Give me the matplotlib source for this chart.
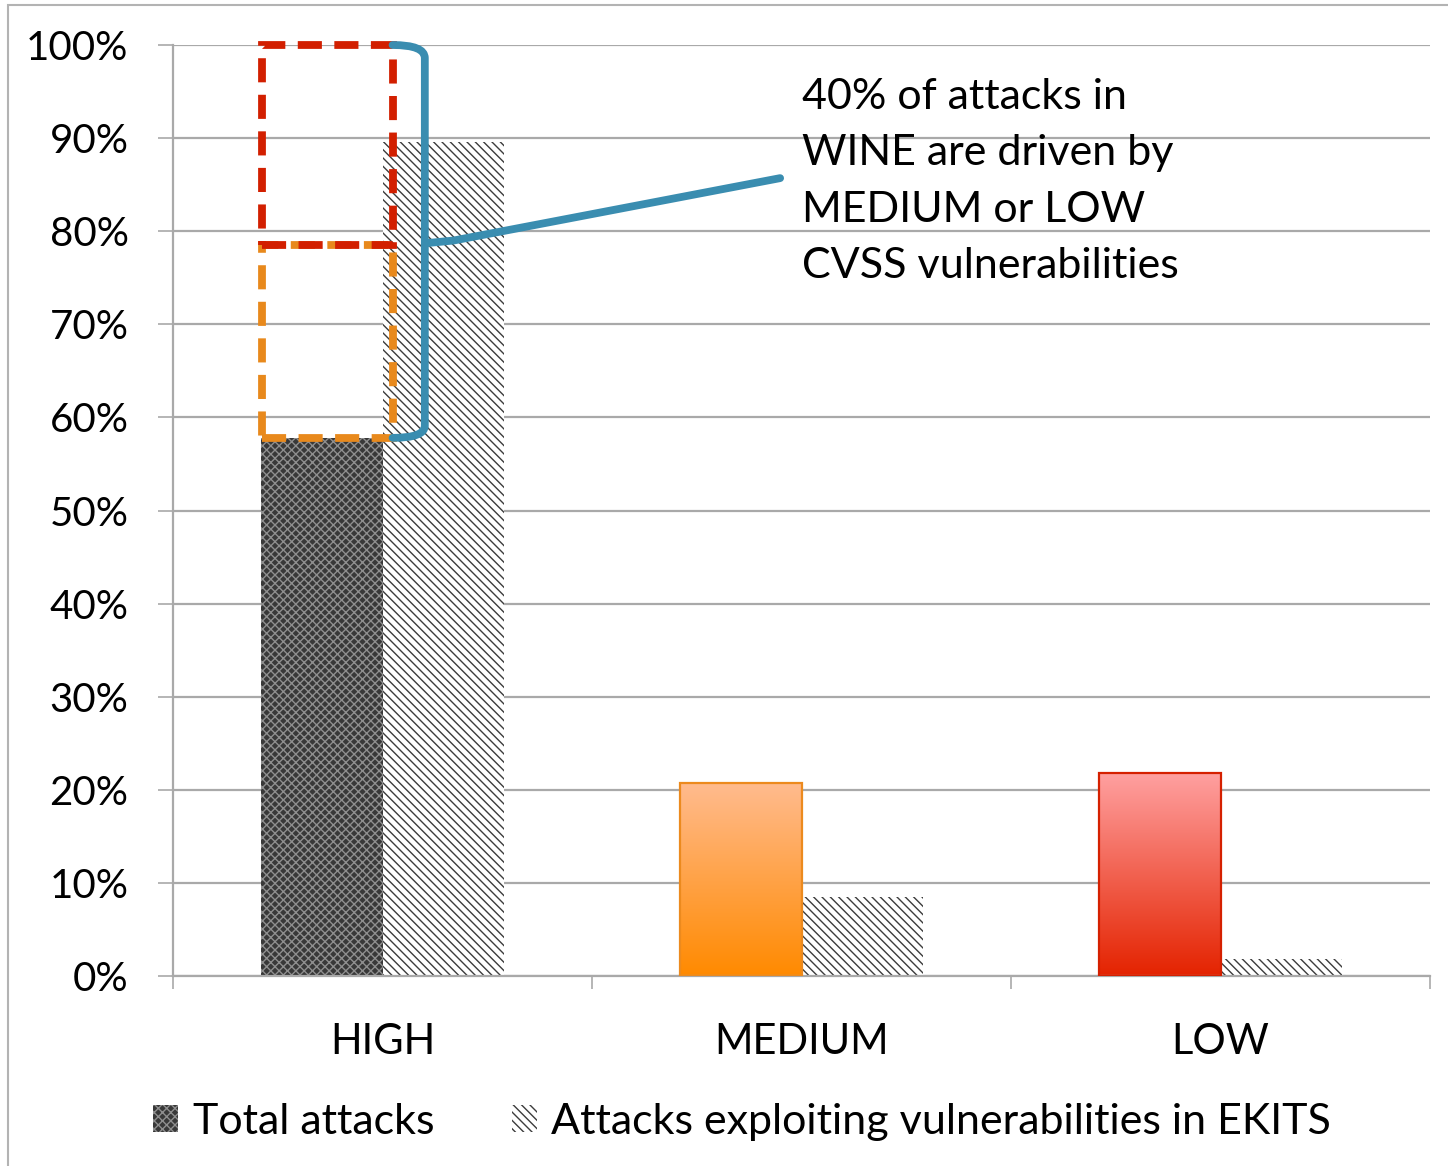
import numpy as np
import matplotlib
matplotlib.use("Agg")
import matplotlib.pyplot as plt
from matplotlib.patches import Rectangle, Patch, PathPatch
from matplotlib.path import Path
from matplotlib.colors import LinearSegmentedColormap

# ---- data -------------------------------------------------------------
categories = ["HIGH", "MEDIUM", "LOW"]
total_attacks = [57.8, 20.7, 21.8]          # % of attacks in WINE
ekits_attacks = [89.6, 8.5, 1.8]            # % of attacks exploiting EKIT vulns
ytick_values = [0, 10, 20, 30, 40, 50, 60, 70, 80, 90, 100]
ytick_labels = [f"{v}%" for v in ytick_values]
series_labels = ["Total attacks", "Attacks exploiting vulnerabilities in EKITS"]
note_lines = ["40% of attacks in", "WINE are driven by", "MEDIUM or LOW",
              "CVSS vulnerabilities"]

# ---- style ------------------------------------------------------------
plt.rcParams["font.family"] = ["Lato", "DejaVu Sans"]
plt.rcParams["hatch.linewidth"] = 1.0
GRID = "#a9a9a9"
FS = 29

W, H = 1448, 1166
fig = plt.figure(figsize=(W / 100, H / 100), dpi=100)
ax = fig.add_axes([173 / W, (H - 976) / H, (1430 - 173) / W, (976 - 45) / H])
ax.set_xlim(-0.5, 2.5)
ax.set_ylim(0, 100)

x = np.arange(len(categories))
bw = 0.29

# gridlines / axes
ax.set_yticks(ytick_values)
ax.set_yticklabels(ytick_labels, fontsize=FS, va="center_baseline")
ax.yaxis.grid(True, color=GRID, lw=1.6, zorder=0)
ax.set_axisbelow(True)
ax.tick_params(axis="y", direction="out", length=11, width=1.2, color=GRID, pad=21)
ax.set_xticks(x)
ax.set_xticklabels(categories, fontsize=30)
ax.tick_params(axis="x", which="major", length=0, pad=34)
ax.set_xticks([-0.5, 0.5, 1.5, 2.5], minor=True)
ax.tick_params(axis="x", which="minor", direction="out", length=9, width=1.2, color=GRID)
for s in ("top", "right"):
    ax.spines[s].set_visible(False)
for s in ("left", "bottom"):
    ax.spines[s].set_color(GRID)
    ax.spines[s].set_linewidth(1.6)

# ---- bars -------------------------------------------------------------
total_bars = ax.bar(x - bw / 2, total_attacks, bw, zorder=2, linewidth=0)
ekits_bars = ax.bar(x + bw / 2, ekits_attacks, bw, zorder=2, linewidth=0,
                    facecolor="white", edgecolor="#3c3c3c", hatch="\\\\\\\\")

# HIGH: dark checkered fill
total_bars[0].set_facecolor("#383838")
total_bars[0].set_edgecolor("#8e8e8e")
total_bars[0].set_hatch("xxxx")

# MEDIUM and LOW: vertical gradients
gradients = {1: ("#ffbb8e", "#ff8a00", "#ec8a1e"),
             2: ("#ffa0a0", "#e42300", "#d52000")}
ramp = np.linspace(0, 1, 256).reshape(-1, 1)
for i, (top_c, bot_c, edge_c) in gradients.items():
    b = total_bars[i]
    b.set_facecolor("none")
    b.set_edgecolor(edge_c)
    b.set_linewidth(1.6)
    b.set_zorder(3)
    x0, h = b.get_x(), b.get_height()
    # soft drop shadow under the bar
    ax.add_patch(Rectangle((x0 + 0.004, -0.6), bw, h, facecolor="black",
                           alpha=0.12, lw=0, zorder=1.9))
    cmap = LinearSegmentedColormap.from_list(f"g{i}", [bot_c, top_c])
    im = ax.imshow(ramp, extent=[x0, x0 + bw, 0, h], origin="lower",
                   cmap=cmap, aspect="auto", zorder=2.5)
    im.set_clip_path(b)
ax.set_xlim(-0.5, 2.5)
ax.set_ylim(0, 100)

# ---- dashed boxes stacking MEDIUM + LOW on top of HIGH -------------------
bx0 = total_bars[0].get_x() + 0.003
bxw = 0.311
base = total_attacks[0]
mid = total_attacks[0] + total_attacks[1]
ax.add_patch(Rectangle((bx0, base), bxw, mid - base, fill=False,
                       edgecolor="#e8891c", lw=5.6, ls=(0, (3.1, 1.6)),
                       zorder=6, clip_on=False))
ax.add_patch(Rectangle((bx0, mid), bxw, 100 - mid, fill=False,
                       edgecolor="#d21f00", lw=5.6, ls=(0, (3.1, 1.6)),
                       zorder=7, clip_on=False))

# ---- blue bracket with leader to the note --------------------------------
bl = bx0 + bxw
br = 0.101
verts = [(bl, 100), (br, 100), (br, 98.6),
         (br, base + 1.3),
         (br, base), (bl, base)]
codes = [Path.MOVETO, Path.CURVE3, Path.CURVE3, Path.LINETO,
         Path.CURVE3, Path.CURVE3]
ax.add_patch(PathPatch(Path(verts, codes), fill=False, edgecolor="#3a8db0",
                       lw=5.6, capstyle="round", joinstyle="round", zorder=8,
                       clip_on=False))
leader = [(br, mid + 0.2), (0.17, mid + 0.5), (0.949, 85.7)]
ax.add_patch(PathPatch(Path(leader, [Path.MOVETO, Path.LINETO, Path.LINETO]),
                       fill=False, edgecolor="#3a8db0", lw=5.6,
                       capstyle="round", joinstyle="round", zorder=8))

ax.text(1.0, 96.5, "\n".join(note_lines), fontsize=31, va="top", ha="left",
        linespacing=1.6, zorder=9)

# ---- legend ------------------------------------------------------------
handles = [Patch(facecolor="#383838", edgecolor="#8e8e8e", hatch="xxxx", lw=0),
           Patch(facecolor="white", edgecolor="#3c3c3c", hatch="\\\\\\\\", lw=0)]
fig.legend(handles, series_labels, loc="center", ncol=2, frameon=False,
           fontsize=31, bbox_to_anchor=(742 / W, 1 - 1122 / H),
           handlelength=0.58, handleheight=0.58, handletextpad=0.33,
           columnspacing=1.8, borderpad=0)

# outer frame of the chart area
fig.add_artist(Rectangle((8 / W, -0.05), 1.2, (H - 5) / H + 0.05,
                         transform=fig.transFigure, fill=False,
                         edgecolor="#b3b3b3", lw=1.5))

fig.savefig("out.png", dpi=100)
